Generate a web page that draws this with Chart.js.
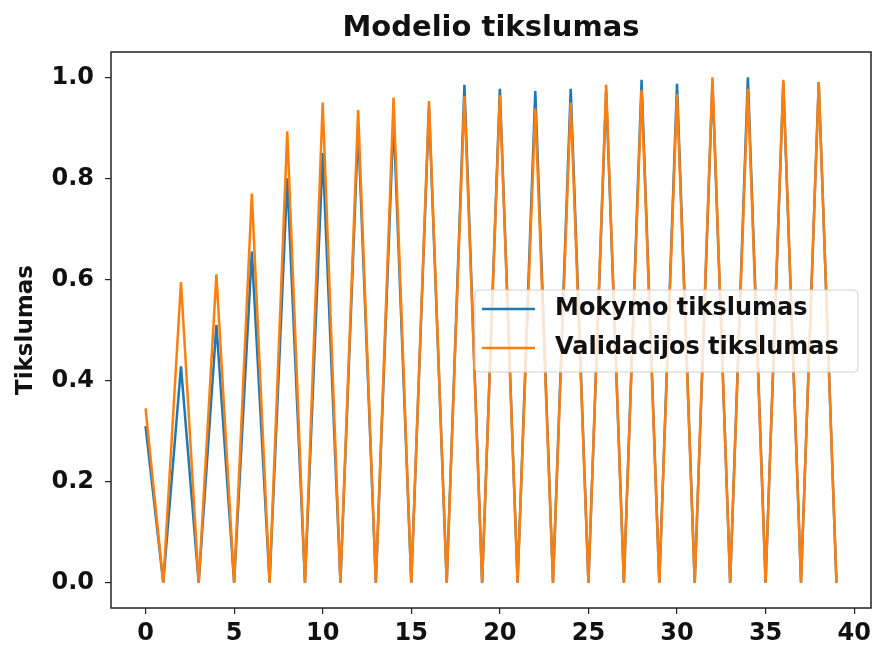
<!DOCTYPE html>
<html>
<head>
<meta charset="utf-8">
<script src="https://cdn.jsdelivr.net/npm/chart.js@4"></script>
<style>
  html, body { margin: 0; padding: 0; background: #fff; }
  #wrap { width: 872px; height: 647px; }
</style>
</head>
<body>
<div id="wrap"><canvas id="accChart" width="872" height="647"></canvas></div>
<script>
// epochs and accuracy per epoch
const epochs = [0, 1, 2, 3, 4, 5, 6, 7, 8, 9, 10, 11, 12, 13, 14, 15, 16, 17, 18, 19,
                20, 21, 22, 23, 24, 25, 26, 27, 28, 29, 30, 31, 32, 33, 34, 35, 36, 37, 38, 39];
const trainAcc = [0.31, 0, 0.428, 0, 0.51, 0, 0.655, 0, 0.80, 0, 0.85, 0, 0.90, 0, 0.92, 0, 0.94, 0, 0.985, 0,
                  0.977, 0, 0.973, 0, 0.977, 0, 0.972, 0, 0.995, 0, 0.987, 0, 0.99, 0, 1.0, 0, 0.99, 0, 0.99, 0];
const valAcc = [0.345, 0, 0.595, 0, 0.61, 0, 0.77, 0, 0.893, 0, 0.95, 0, 0.935, 0, 0.96, 0, 0.953, 0, 0.963, 0,
                0.965, 0, 0.938, 0, 0.95, 0, 0.985, 0, 0.975, 0, 0.967, 0, 1.0, 0, 0.977, 0, 0.995, 0, 0.99, 0];
const xTicks = [0, 5, 10, 15, 20, 25, 30, 35, 40];
const yTicks = [0, 0.2, 0.4, 0.6, 0.8, 1.0];
const seriesLabels = ['Mokymo tikslumas', 'Validacijos tikslumas'];
const seriesColors = ['#1f77b4', '#ff7f0e'];
const chartTitle = 'Modelio tikslumas';

const FONT = "'DejaVu Sans', sans-serif";

// frame around the plot + title centred over the axes (matplotlib style)
const frame = {
    id: 'frame',
    afterDatasetsDraw(chart) {
        const { ctx, chartArea: a } = chart;
        ctx.save();
        ctx.strokeStyle = '#222';
        ctx.lineWidth = 1.5;
        ctx.strokeRect(a.left, a.top, a.right - a.left, a.bottom - a.top);
        ctx.font = 'bold 29px ' + FONT;
        ctx.fillStyle = '#111';
        ctx.textAlign = 'center';
        ctx.textBaseline = 'middle';
        ctx.fillText(chartTitle, (a.left + a.right) / 2, 28);
        ctx.restore();
    }
};

// legend box inside the plot
const boxLegend = {
    id: 'boxLegend',
    afterDraw(chart) {
        const { ctx } = chart;
        const x = 475, y = 290, w = 383, h = 82;
        ctx.save();
        ctx.beginPath();
        ctx.roundRect(x, y, w, h, 4);
        ctx.fillStyle = 'rgba(255,255,255,0.8)';
        ctx.fill();
        ctx.strokeStyle = '#d0d0d0';
        ctx.lineWidth = 1;
        ctx.stroke();
        ctx.font = 'bold 24px ' + FONT;
        ctx.textBaseline = 'middle';
        ctx.fillStyle = '#111';
        seriesLabels.forEach((lbl, i) => {
            const cy = y + 19 + i * 39;
            ctx.beginPath();
            ctx.moveTo(x + 7, cy);
            ctx.lineTo(x + 60, cy);
            ctx.strokeStyle = seriesColors[i];
            ctx.lineWidth = 2.5;
            ctx.stroke();
            ctx.fillText(lbl, x + 80, cy);
        });
        ctx.restore();
    }
};

document.addEventListener('DOMContentLoaded', () => {
    const ctx = document.getElementById('accChart').getContext('2d');

    new Chart(ctx, {
        type: 'line',
        data: {
            datasets: [
                {
                    label: seriesLabels[0],
                    data: epochs.map((e, i) => ({ x: e, y: trainAcc[i] })),
                    borderColor: seriesColors[0],
                    borderWidth: 2.5,
                    pointRadius: 0,
                    tension: 0,
                    order: 2
                },
                {
                    label: seriesLabels[1],
                    data: epochs.map((e, i) => ({ x: e, y: valAcc[i] })),
                    borderColor: seriesColors[1],
                    borderWidth: 2.5,
                    pointRadius: 0,
                    tension: 0,
                    order: 1
                }
            ]
        },
        options: {
            responsive: false,
            animation: false,
            layout: { padding: { left: 0, right: 1, top: 52, bottom: 0 } },
            plugins: {
                legend: { display: false },
                tooltip: { enabled: false },
                title: { display: false }
            },
            scales: {
                x: {
                    type: 'linear',
                    min: -1.95,
                    max: 40.95,
                    afterBuildTicks: s => { s.ticks = xTicks.map(v => ({ value: v })); },
                    afterFit: s => { s.height = 39; s.paddingLeft = 0; s.paddingRight = 0; },
                    grid: { drawOnChartArea: false, drawTicks: true, tickLength: 6, color: '#222', lineWidth: 1.2 },
                    border: { display: false },
                    ticks: {
                        color: '#111',
                        padding: 5,
                        maxRotation: 0,
                        font: { family: FONT, size: 24, weight: 'bold' }
                    }
                },
                y: {
                    min: -0.05,
                    max: 1.05,
                    afterBuildTicks: s => { s.ticks = yTicks.map(v => ({ value: v })); },
                    afterFit: s => { s.width = 111; s.paddingTop = 0; s.paddingBottom = 0; },
                    grid: { drawOnChartArea: false, drawTicks: true, tickLength: 6, color: '#222', lineWidth: 1.2 },
                    border: { display: false },
                    title: {
                        display: true,
                        text: 'Tikslumas',
                        color: '#111',
                        font: { family: FONT, size: 23, weight: 'bold' },
                        padding: { top: 12, bottom: 4 }
                    },
                    ticks: {
                        color: '#111',
                        padding: 11,
                        font: { family: FONT, size: 24, weight: 'bold' },
                        callback: v => v.toFixed(1)
                    }
                }
            }
        },
        plugins: [frame, boxLegend]
    });
});
</script>
</body>
</html>
